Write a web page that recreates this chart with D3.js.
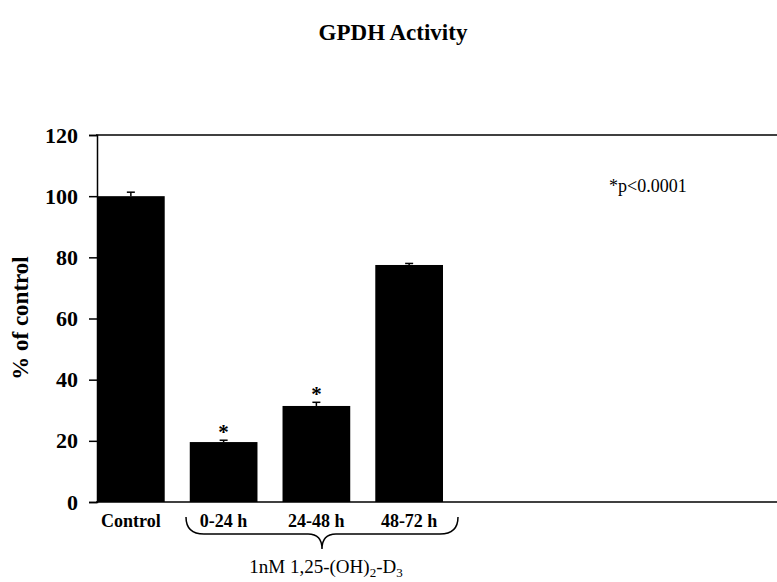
<!DOCTYPE html>
<html><head><meta charset="utf-8">
<script src="https://cdn.jsdelivr.net/npm/d3@7"></script>
<style>body{margin:0;background:#fff}svg{display:block}</style>
</head><body>
<script>
const categories = ["Control", "0-24 h", "24-48 h", "48-72 h"];
const values = [100, 19.6, 31.4, 77.5];
const errors = [1.3, 0.6, 1.2, 0.5];
const significant = [false, true, true, false];
const yTicks = [0, 20, 40, 60, 80, 100, 120];

const W = 777, H = 582;
const svg = d3.select("body").append("svg").attr("width", W).attr("height", H);
const serif = "'Liberation Serif','Times New Roman',serif";

const y = d3.scaleLinear().domain([0, 120]).range([502, 135]);
const x = d3.scaleBand().domain(categories).range([97, 443]).paddingInner(0.27).paddingOuter(0);

// title
svg.append("text").attr("x", 393).attr("y", 40).attr("text-anchor", "middle")
  .attr("font-family", serif).attr("font-weight", "bold").attr("font-size", 23).text("GPDH Activity");

// frame lines
svg.append("line").attr("x1", 96).attr("x2", W).attr("y1", y(120)).attr("y2", y(120)).attr("stroke", "#000").attr("stroke-width", 1.5);
svg.append("line").attr("x1", 96).attr("x2", W).attr("y1", y(0)).attr("y2", y(0)).attr("stroke", "#000").attr("stroke-width", 1.5);

// y axis
const yAxis = d3.axisLeft(y).tickValues(yTicks).tickSize(8).tickPadding(11).tickFormat(d3.format("d"));
const ga = svg.append("g").attr("transform", "translate(97,0)").call(yAxis);
ga.select(".domain").attr("stroke-width", 1.5);
ga.selectAll(".tick line").attr("stroke-width", 1.5);
ga.selectAll(".tick text").attr("font-family", serif).attr("font-weight", "bold").attr("font-size", 22).attr("fill", "#000");

svg.append("text").attr("transform", "translate(28,318) rotate(-90)").attr("text-anchor", "middle")
  .attr("font-family", serif).attr("font-weight", "bold").attr("font-size", 23).text("% of control");

// bars
svg.selectAll("rect.bar").data(categories).enter().append("rect").attr("class", "bar")
  .attr("x", d => x(d)).attr("width", x.bandwidth())
  .attr("y", (d, i) => y(values[i])).attr("height", (d, i) => y(0) - y(values[i])).attr("fill", "#000");

// error bars
categories.forEach((c, i) => {
  const cx = x(c) + x.bandwidth() / 2;
  svg.append("line").attr("x1", cx).attr("x2", cx).attr("y1", y(values[i])).attr("y2", y(values[i] + errors[i])).attr("stroke", "#000").attr("stroke-width", 1.5);
  svg.append("line").attr("x1", cx - 4).attr("x2", cx + 4).attr("y1", y(values[i] + errors[i])).attr("y2", y(values[i] + errors[i])).attr("stroke", "#000").attr("stroke-width", 1.5);
  if (significant[i]) {
    svg.append("text").attr("x", cx).attr("y", y(values[i] + errors[i]) - 1).attr("text-anchor", "middle")
      .attr("font-family", serif).attr("font-weight", "bold").attr("font-size", 21).text("*");
  }
});

// x labels
svg.selectAll("text.xl").data(categories).enter().append("text").attr("class", "xl")
  .attr("x", d => x(d) + x.bandwidth() / 2).attr("y", 527).attr("text-anchor", "middle")
  .attr("font-family", serif).attr("font-weight", "bold").attr("font-size", 18).text(d => d);

// brace
const bx0 = 186, bx1 = 458, bm = 322, by0 = 517, by1 = 534, by2 = 549;
svg.append("path").attr("fill", "none").attr("stroke", "#000").attr("stroke-width", 1.5)
  .attr("d", `M${bx0},${by0} Q${bx0},${by1} ${bx0 + 18},${by1} L${bm - 14},${by1} Q${bm},${by1} ${bm},${by2} Q${bm},${by1} ${bm + 14},${by1} L${bx1 - 18},${by1} Q${bx1},${by1} ${bx1},${by0}`);

const tl = svg.append("text").attr("x", 326).attr("y", 573).attr("text-anchor", "middle")
  .attr("font-family", serif).attr("font-size", 19);
tl.append("tspan").text("1nM 1,25-(OH)");
tl.append("tspan").attr("font-size", 13).attr("dy", 4).text("2");
tl.append("tspan").attr("dy", -4).text("-D");
tl.append("tspan").attr("font-size", 13).attr("dy", 4).text("3");

// p-value note
svg.append("text").attr("x", 609).attr("y", 192).attr("font-family", serif).attr("font-size", 18).text("*p<0.0001");
</script>
</body></html>
